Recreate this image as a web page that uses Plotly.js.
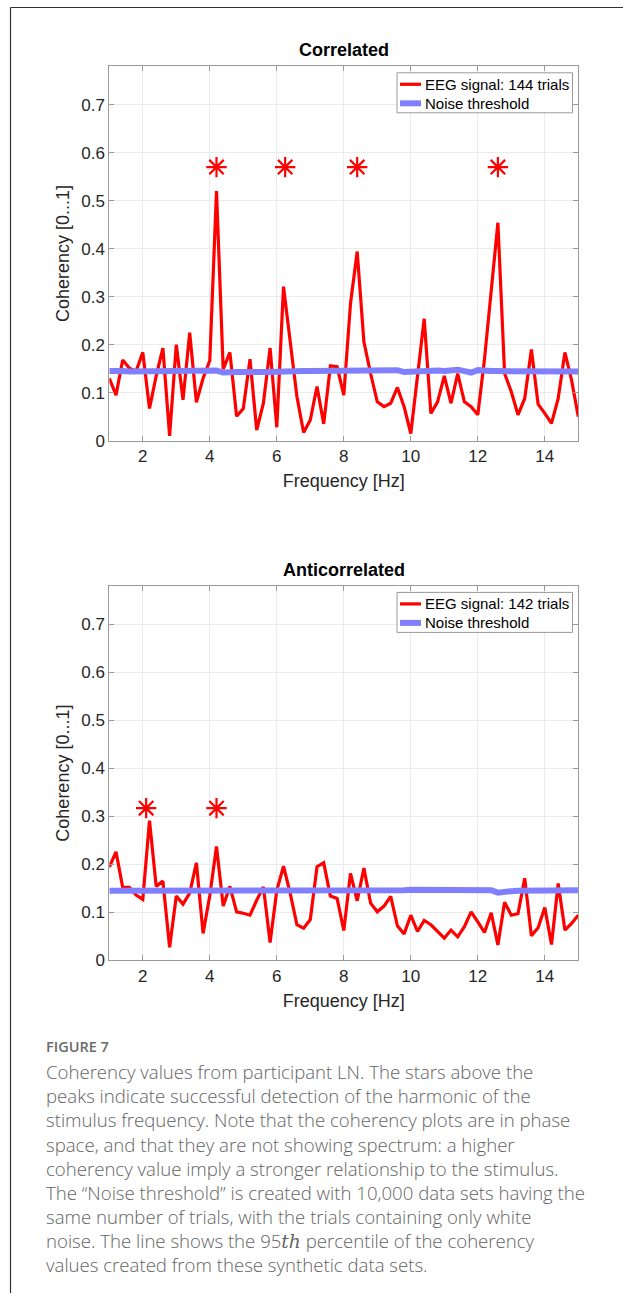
<!DOCTYPE html>
<html>
<head>
<meta charset="utf-8">
<script src="https://cdn.plot.ly/plotly-3.0.1.min.js"></script>
<style>
html,body{margin:0;padding:0;background:#fff;}
#chart{width:623px;height:1293px;}
</style>
</head>
<body>
<div id="chart"></div>
<script>
// ---------- DATA ----------
const freq = [1.0,1.2,1.4,1.6,1.8,2.0,2.2,2.4,2.6,2.8,3.0,3.2,3.4,3.6,3.8,4.0,4.2,4.4,4.6,4.8,5.0,5.2,5.4,5.6,5.8,6.0,6.2,6.4,6.6,6.8,7.0,7.2,7.4,7.6,7.8,8.0,8.2,8.4,8.6,8.8,9.0,9.2,9.4,9.6,9.8,10.0,10.2,10.4,10.6,10.8,11.0,11.2,11.4,11.6,11.8,12.0,12.2,12.4,12.6,12.8,13.0,13.2,13.4,13.6,13.8,14.0,14.2,14.4,14.6,14.8,15.0];

const corrEEG = [0.130,0.095,0.168,0.151,0.145,0.184,0.067,0.135,0.193,0.010,0.200,0.085,0.225,0.080,0.130,0.167,0.520,0.149,0.184,0.051,0.067,0.170,0.022,0.078,0.193,0.028,0.321,0.200,0.092,0.017,0.043,0.113,0.035,0.156,0.154,0.095,0.286,0.394,0.206,0.140,0.081,0.071,0.078,0.111,0.071,0.015,0.130,0.254,0.057,0.081,0.135,0.078,0.140,0.081,0.071,0.054,0.170,0.314,0.454,0.140,0.102,0.054,0.088,0.190,0.076,0.057,0.036,0.088,0.184,0.126,0.050];

const corrNoise = [0.145,0.146,0.145,0.144,0.144,0.145,0.145,0.144,0.144,0.145,0.145,0.146,0.145,0.146,0.146,0.146,0.146,0.142,0.144,0.143,0.143,0.144,0.144,0.143,0.143,0.144,0.143,0.144,0.144,0.145,0.145,0.145,0.145,0.144,0.144,0.145,0.145,0.145,0.145,0.145,0.144,0.144,0.145,0.147,0.143,0.144,0.145,0.145,0.145,0.146,0.145,0.146,0.148,0.145,0.142,0.147,0.145,0.145,0.145,0.145,0.145,0.144,0.144,0.145,0.145,0.145,0.145,0.145,0.144,0.144,0.144];

const antiEEG = [0.194,0.226,0.152,0.152,0.136,0.127,0.291,0.154,0.165,0.027,0.134,0.117,0.140,0.203,0.056,0.135,0.237,0.113,0.154,0.101,0.098,0.094,0.125,0.153,0.037,0.146,0.196,0.140,0.074,0.067,0.085,0.195,0.203,0.134,0.129,0.062,0.181,0.124,0.192,0.119,0.101,0.113,0.133,0.072,0.055,0.094,0.060,0.083,0.074,0.060,0.046,0.063,0.049,0.070,0.101,0.080,0.058,0.099,0.032,0.121,0.094,0.097,0.171,0.051,0.068,0.110,0.033,0.160,0.063,0.077,0.094];

const antiNoise = [0.145,0.145,0.146,0.145,0.144,0.145,0.145,0.145,0.144,0.145,0.145,0.145,0.146,0.146,0.145,0.144,0.143,0.144,0.145,0.145,0.146,0.145,0.145,0.145,0.144,0.145,0.145,0.146,0.145,0.145,0.145,0.145,0.144,0.144,0.144,0.144,0.145,0.145,0.145,0.145,0.145,0.145,0.145,0.146,0.146,0.147,0.147,0.147,0.147,0.146,0.146,0.145,0.145,0.145,0.145,0.145,0.145,0.146,0.141,0.144,0.144,0.145,0.145,0.145,0.146,0.146,0.146,0.146,0.146,0.146,0.146];

const corrStarX = [4.2, 6.25, 8.4, 12.6];
const corrStarY = [0.57, 0.57, 0.57, 0.57];
const antiStarX = [2.1, 4.2];
const antiStarY = [0.317, 0.317];

const xTicks = [2,4,6,8,10,12,14];
const yTicks = [0,0.1,0.2,0.3,0.4,0.5,0.6,0.7];
const yTickText = ["0","0.1","0.2","0.3","0.4","0.5","0.6","0.7"];

const titles = ["Correlated","Anticorrelated"];
const legendEEG = ["EEG signal: 144 trials","EEG signal: 142 trials"];
const legendNoise = "Noise threshold";
const xTitle = "Frequency [Hz]";
const yTitle = "Coherency [0...1]";

const figLabel = "FIGURE 7";
const captionLines = [
 "Coherency values from participant LN. The stars above the",
 "peaks indicate successful detection of the harmonic of the",
 "stimulus frequency. Note that the coherency plots are in phase",
 "space, and that they are not showing spectrum: a higher",
 "coherency value imply a stronger relationship to the stimulus.",
 "The \u201cNoise threshold\u201d is created with 10,000 data sets having the",
 "same number of trials, with the trials containing only white",
 "noise. The line shows the 95<i><span style=\"font-family:'DejaVu Serif','Liberation Serif',serif\">th</span></i> percentile of the coherency",
 "values created from these synthetic data sets."
];

// ---------- LAYOUT HELPERS ----------
const W = 623, H = 1293;
const px = v => v / W;
const py = v => 1 - v / H;

const RED = 'rgb(255,0,0)';
const BLUE = 'rgb(128,128,255)';
const AXC = '#9a9a9a';
const TXT = '#262626';
const FONT = '"Liberation Sans", Arial, Helvetica, sans-serif';

const xDom = [px(109.3), px(578.3)];
const yDom1 = [py(440.7), py(66.3)];
const yDom2 = [py(960.3), py(585.9)];

function xAxis(anchor){
  return {
    domain: xDom, anchor: anchor, range: [1, 15],
    tickvals: xTicks, ticktext: xTicks.map(String),
    ticks: 'inside', ticklen: 5, tickcolor: AXC, tickwidth: 1,
    showline: true, linecolor: AXC, linewidth: 1, mirror: 'ticks',
    showgrid: true, gridcolor: '#ebebeb', gridwidth: 1, zeroline: false,
    tickfont: {family: FONT, size: 17, color: TXT},
    title: {text: xTitle, font: {family: FONT, size: 18, color: TXT}, standoff: 9},
    automargin: false
  };
}
function yAxis(anchor, dom){
  return {
    domain: dom, anchor: anchor, range: [0, 0.78],
    tickvals: yTicks, ticktext: yTickText,
    ticks: 'inside', ticklen: 5, tickcolor: AXC, tickwidth: 1,
    showline: true, linecolor: AXC, linewidth: 1, mirror: 'ticks',
    showgrid: true, gridcolor: '#ebebeb', gridwidth: 1, zeroline: false,
    tickfont: {family: FONT, size: 17, color: TXT},
    title: {text: yTitle, font: {family: FONT, size: 18, color: TXT}, standoff: 6},
    automargin: false
  };
}

const data = [
  {x: freq, y: corrEEG, xaxis: 'x', yaxis: 'y', mode: 'lines', name: legendEEG[0],
   line: {color: RED, width: 3.2}, showlegend: false},
  {x: freq, y: corrNoise, xaxis: 'x', yaxis: 'y', mode: 'lines', name: legendNoise,
   line: {color: BLUE, width: 6}, showlegend: false},
  {x: corrStarX, y: corrStarY, xaxis: 'x', yaxis: 'y', mode: 'markers', name: 'detected',
   marker: {symbol: 'asterisk-open', size: 17, color: RED, line: {color: RED, width: 2.2}}, showlegend: false},
  {x: freq, y: antiEEG, xaxis: 'x2', yaxis: 'y2', mode: 'lines', name: legendEEG[1],
   line: {color: RED, width: 3.2}, showlegend: false},
  {x: freq, y: antiNoise, xaxis: 'x2', yaxis: 'y2', mode: 'lines', name: legendNoise,
   line: {color: BLUE, width: 6}, showlegend: false},
  {x: antiStarX, y: antiStarY, xaxis: 'x2', yaxis: 'y2', mode: 'markers', name: 'detected',
   marker: {symbol: 'asterisk-open', size: 17, color: RED, line: {color: RED, width: 2.2}}, showlegend: false}
];

const shapes = [];
const annotations = [];

// frame
shapes.push({type: 'line', xref: 'paper', yref: 'paper', x0: px(10.5), x1: px(623), y0: py(7.5), y1: py(7.5), line: {color: '#333', width: 1.2}});
shapes.push({type: 'line', xref: 'paper', yref: 'paper', x0: px(10.5), x1: px(10.5), y0: py(7.5), y1: py(1293), line: {color: '#333', width: 1.2}});

// titles and legends for each panel
const panelTop = [66.3, 585.9];
[0, 1].forEach(i => {
  const top = panelTop[i];
  annotations.push({xref: 'paper', yref: 'paper', x: px(343.8), y: py(top - 16), text: '<b>' + titles[i] + '</b>',
    showarrow: false, xanchor: 'center', yanchor: 'middle', font: {family: FONT, size: 18, color: '#000'}});
  // legend box
  const lx0 = 397, lx1 = 572.5, ly0 = top + 6.5, ly1 = top + 46.5;
  shapes.push({type: 'rect', xref: 'paper', yref: 'paper', x0: px(lx0), x1: px(lx1), y0: py(ly1), y1: py(ly0),
    fillcolor: '#fff', line: {color: AXC, width: 1}, layer: 'above'});
  const r1 = top + 18, r2 = top + 37;
  shapes.push({type: 'line', xref: 'paper', yref: 'paper', x0: px(400), x1: px(421), y0: py(r1), y1: py(r1), line: {color: RED, width: 3.2}, layer: 'above'});
  shapes.push({type: 'line', xref: 'paper', yref: 'paper', x0: px(400), x1: px(421), y0: py(r2), y1: py(r2), line: {color: BLUE, width: 6}, layer: 'above'});
  annotations.push({xref: 'paper', yref: 'paper', x: px(423), y: py(r1), text: legendEEG[i], showarrow: false,
    xanchor: 'left', yanchor: 'middle', font: {family: FONT, size: 15, color: '#000'}});
  annotations.push({xref: 'paper', yref: 'paper', x: px(423), y: py(r2), text: legendNoise, showarrow: false,
    xanchor: 'left', yanchor: 'middle', font: {family: FONT, size: 15, color: '#000'}});
});

// caption
const CAPFONT = '"Open Sans", "Noto Sans", sans-serif';
annotations.push({xref: 'paper', yref: 'paper', x: px(44), y: py(1046), text: figLabel, showarrow: false,
  xanchor: 'left', yanchor: 'middle', font: {family: CAPFONT, size: 14.5, color: '#6a6a6a', weight: 600}});
annotations.push({xref: 'paper', yref: 'paper', x: px(44), y: py(1168), text: captionLines.join('<br>'), showarrow: false,
  xanchor: 'left', yanchor: 'middle', align: 'left', font: {family: CAPFONT, size: 18.6, color: '#636363', weight: 300}});

const layout = {
  width: W, height: H,
  margin: {l: 0, r: 0, t: 0, b: 0, pad: 0},
  paper_bgcolor: '#fff', plot_bgcolor: '#fff',
  showlegend: false,
  xaxis: xAxis('y'), yaxis: yAxis('x', yDom1),
  xaxis2: xAxis('y2'), yaxis2: yAxis('x2', yDom2),
  shapes: shapes, annotations: annotations
};

Plotly.newPlot('chart', data, layout, {staticPlot: true, displayModeBar: false});
</script>
</body>
</html>
